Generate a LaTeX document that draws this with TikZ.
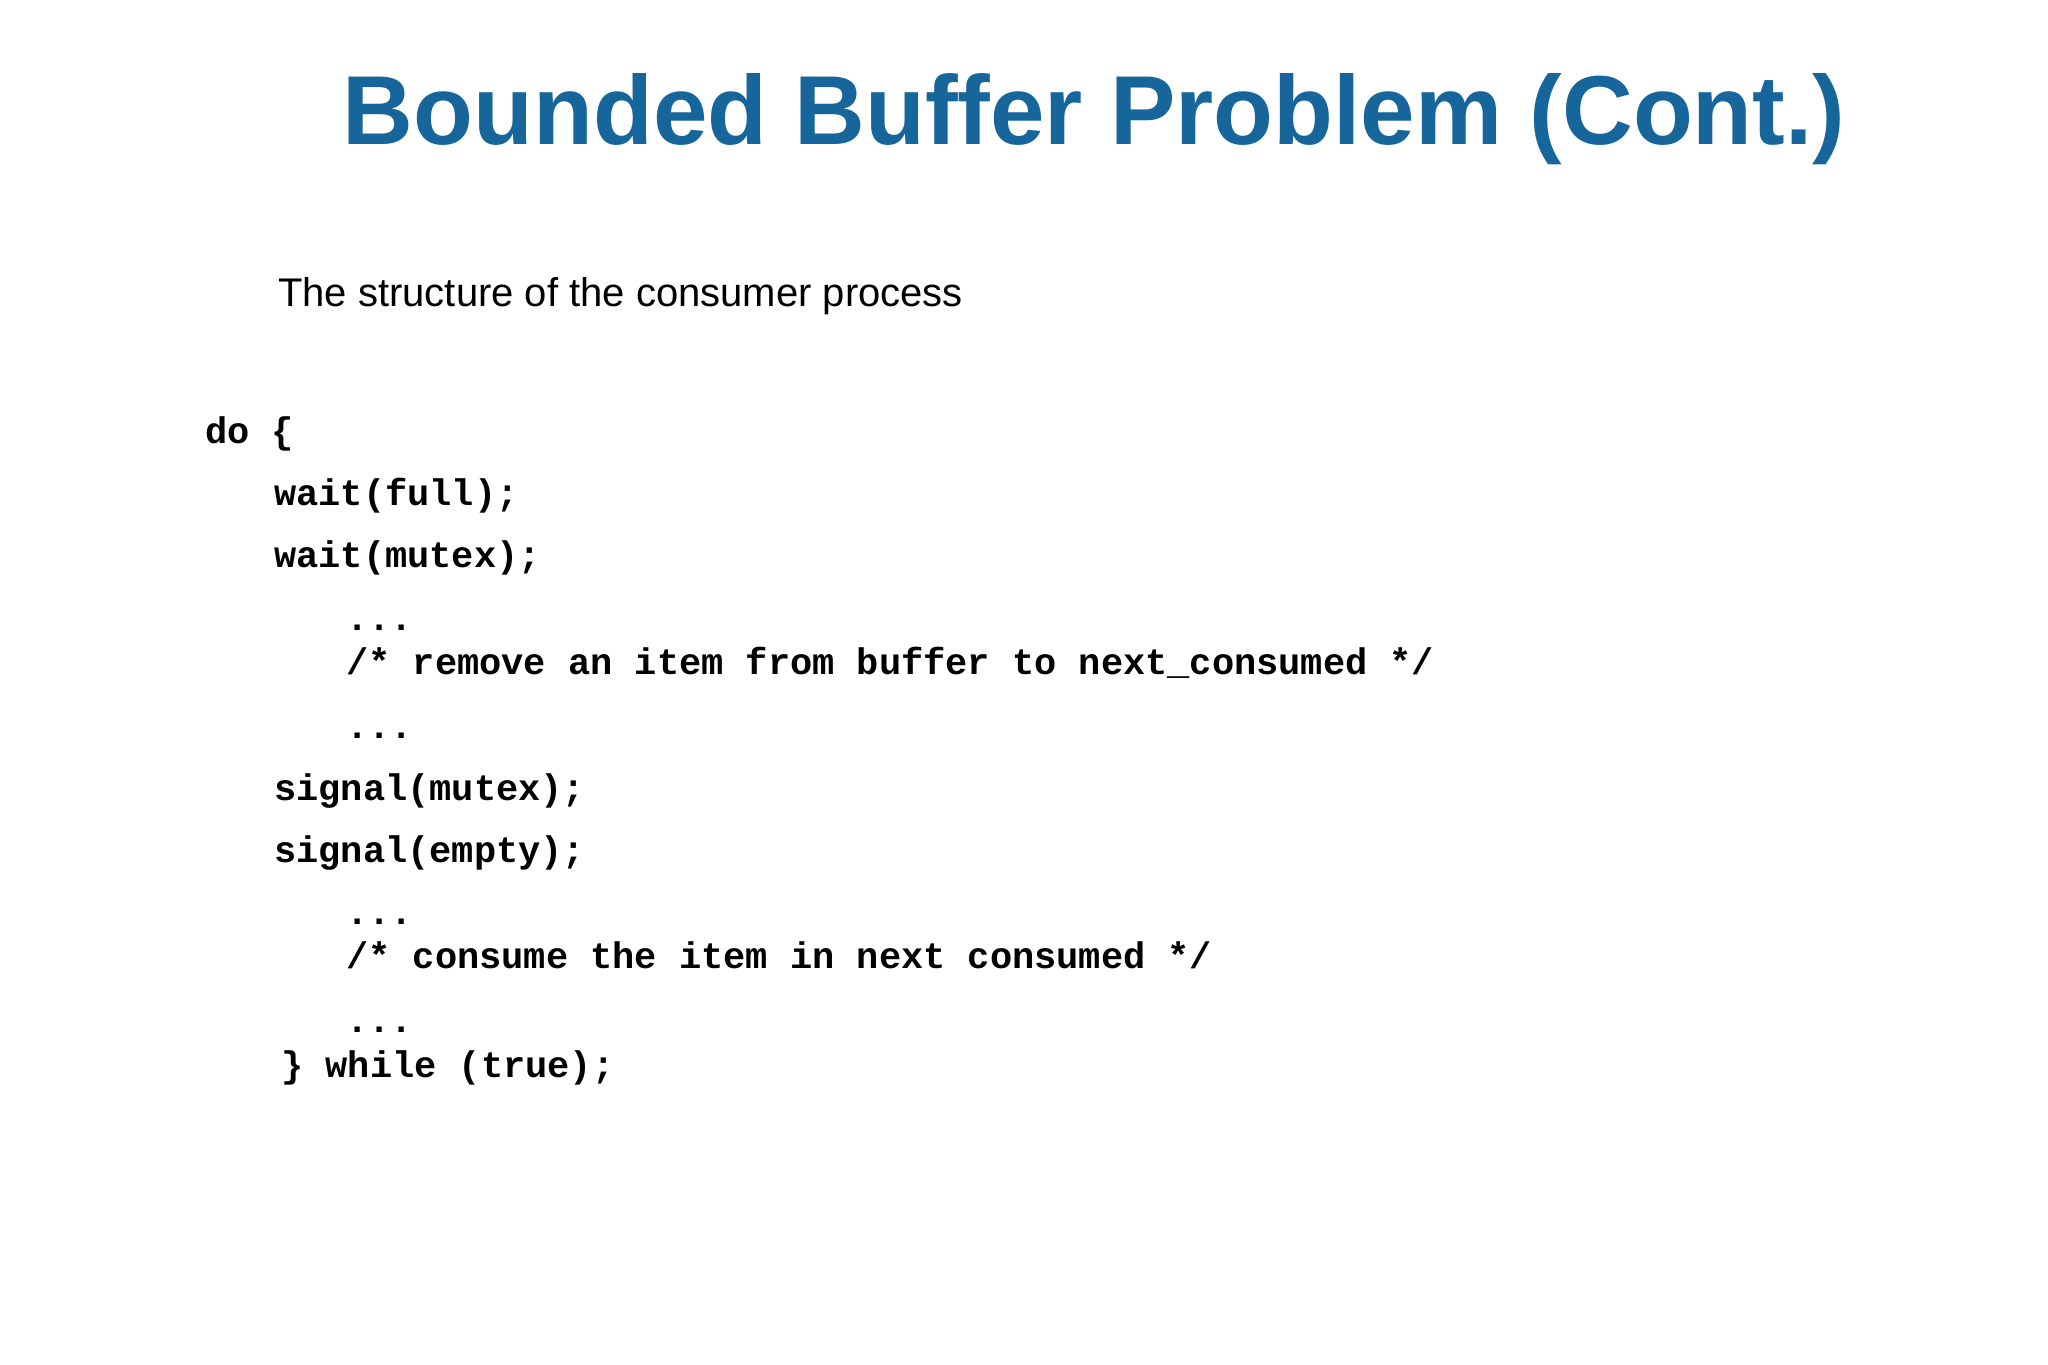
\documentclass[tikz,border=0pt]{standalone}
\usepackage{fontspec}
\setmainfont{Liberation Sans}
\newfontfamily\codefont{Liberation Mono}
\definecolor{titleblue}{HTML}{16669C}
\begin{document}
\begin{tikzpicture}[x=1pt,y=-1pt,
  code/.style={anchor=base west,inner sep=0pt,font=\codefont\bfseries\fontsize{37}{40}\selectfont}]
\useasboundingbox (0,0) rectangle (2048,1365);
\fill[white] (0,0) rectangle (2048,1365);
\node[anchor=base,inner sep=0pt,text=titleblue,font=\bfseries\fontsize{98}{100}\selectfont] (title) at (1094,144) {Bounded Buffer Problem (Cont.)};
\node[anchor=base west,inner sep=0pt,font=\fontsize{40}{44}\selectfont] (sub) at (278,306) {The structure of the consumer process};
\node[code] (l1) at (205,443) {do \{};
\node[code] (l2) at (274,505) {wait(full);};
\node[code] (l3) at (274,567) {wait(mutex);};
\node[code] (l4) at (346,630) {...};
\node[code] (l5) at (346,674) {/* remove an item from buffer to next\_consumed */};
\node[code] (l6) at (346,738) {...};
\node[code] (l7) at (274,800) {signal(mutex);};
\node[code] (l8) at (274,862) {signal(empty);};
\node[code] (l9) at (346,924) {...};
\node[code] (l10) at (346,968) {/* consume the item in next consumed */};
\node[code] (l11) at (346,1032) {...};
\node[code] (l12) at (281,1077) {\} while (true);};
\end{tikzpicture}
\end{document}
